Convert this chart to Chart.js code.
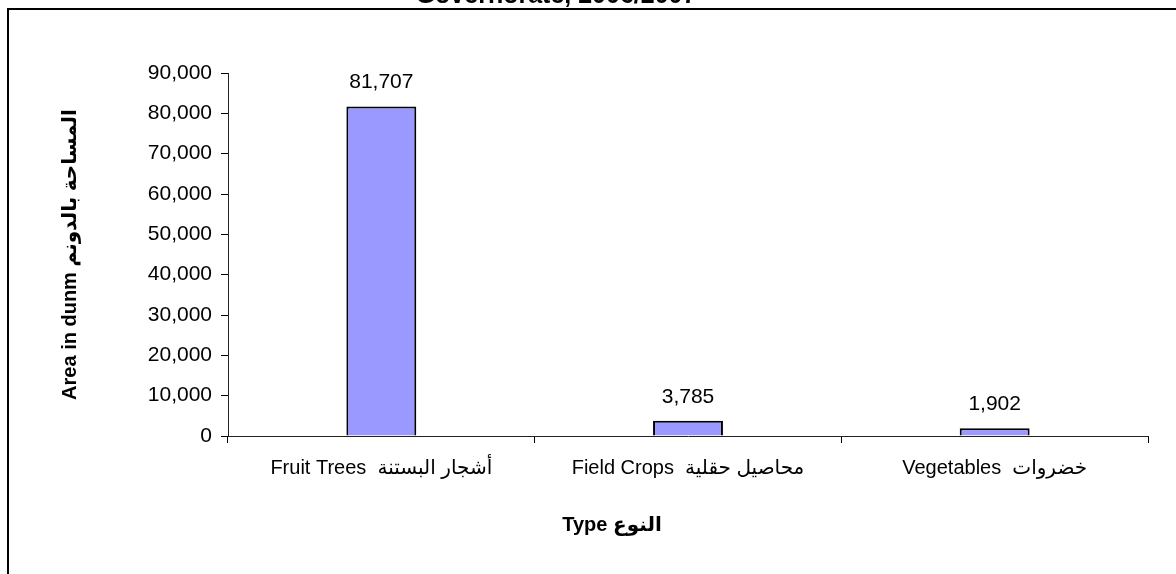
<!DOCTYPE html>
<html>
<head>
<meta charset="utf-8">
<script src="https://cdn.jsdelivr.net/npm/chart.js@4/dist/chart.umd.min.js"></script>
<style>
  html, body { margin: 0; padding: 0; background: #fff; }
  #wrap { width: 1176px; height: 574px; position: relative; }
</style>
</head>
<body>
<div id="wrap"><canvas id="c" width="1176" height="574"></canvas></div>
<script>
const categories = ["Fruit Trees  أشجار البستنة", "Field Crops  محاصيل حقلية", "Vegetables  خضروات"];
const areaValues = [81707, 3785, 1902];
const yTickValues = [0, 10000, 20000, 30000, 40000, 50000, 60000, 70000, 80000, 90000];
const chartTitle = "Governorate, 2006/2007";
const yAxisTitle = "Area in dunm المساحة بالدونم";
const xAxisTitle = "Type النوع";

const FONT = "'Liberation Sans', Arial, 'DejaVu Sans', sans-serif";
const fmt = v => v.toLocaleString('en-US');

const framePlugin = {
  id: 'frame',
  beforeDraw(chart) {
    const ctx = chart.ctx;
    ctx.save();
    ctx.fillStyle = '#fff';
    ctx.fillRect(0, 0, chart.width, chart.height);
    ctx.strokeStyle = '#000';
    ctx.lineWidth = 2;
    ctx.beginPath();
    ctx.moveTo(8, 600);
    ctx.lineTo(8, 9);
    ctx.lineTo(1200, 9);
    ctx.stroke();
    ctx.font = "bold 25px " + FONT;
    ctx.fillStyle = '#000';
    ctx.textAlign = 'center';
    ctx.textBaseline = 'alphabetic';
    ctx.fillText(chartTitle, 556, 3);
    ctx.restore();
  }
};

const labelsPlugin = {
  id: 'valueLabels',
  afterDatasetsDraw(chart) {
    const ctx = chart.ctx;
    const meta = chart.getDatasetMeta(0);
    ctx.save();
    ctx.font = "21px " + FONT;
    ctx.fillStyle = '#000';
    ctx.textAlign = 'center';
    ctx.textBaseline = 'alphabetic';
    meta.data.forEach((bar, i) => {
      ctx.fillText(fmt(chart.data.datasets[0].data[i]), bar.x, bar.y - 18);
    });
    // x axis title
    ctx.font = "bold 20px " + FONT;
    ctx.textBaseline = 'middle';
    ctx.fillText(xAxisTitle, 612, 525);
    ctx.restore();
  }
};

new Chart(document.getElementById('c'), {
  type: 'bar',
  data: {
    labels: categories,
    datasets: [{
      data: areaValues,
      backgroundColor: '#9999FF',
      borderColor: '#000',
      borderWidth: 2,
      borderSkipped: 'bottom',
      barPercentage: 0.228,
      categoryPercentage: 1.0
    }]
  },
  options: {
    responsive: false,
    animation: false,
    devicePixelRatio: 1,
    layout: { padding: { left: 0, top: 73, right: 28, bottom: 0 } },
    plugins: {
      legend: { display: false },
      title: { display: false },
      tooltip: { enabled: false }
    },
    scales: {
      x: {
        offset: true,
        grid: {
          offset: true,
          drawOnChartArea: false,
          drawTicks: true,
          tickLength: 7,
          color: '#000',
          lineWidth: 1
        },
        border: { display: true, color: '#222', width: 1 },
        ticks: {
          font: { family: FONT, size: 20 },
          color: '#000',
          padding: 13,
          maxRotation: 0,
          autoSkip: false
        },
        afterFit(scale) { scale.height = 138; }
      },
      y: {
        min: 0,
        max: 90000,
        afterBuildTicks(scale) { scale.ticks = yTickValues.map(v => ({ value: v })); },
        grid: {
          drawOnChartArea: false,
          drawTicks: true,
          tickLength: 7,
          color: '#000',
          lineWidth: 1
        },
        border: { display: true, color: '#222', width: 1 },
        ticks: {
          font: { family: FONT, size: 21 },
          color: '#000',
          padding: 9,
          callback: v => fmt(v)
        },
        title: {
          display: true,
          text: yAxisTitle,
          font: { family: FONT, size: 20, weight: 'bold' },
          color: '#000',
          padding: { top: 58, bottom: 0 }
        },
        afterFit(scale) { scale.width = 228; }
      }
    }
  },
  plugins: [framePlugin, labelsPlugin]
});
</script>
</body>
</html>
